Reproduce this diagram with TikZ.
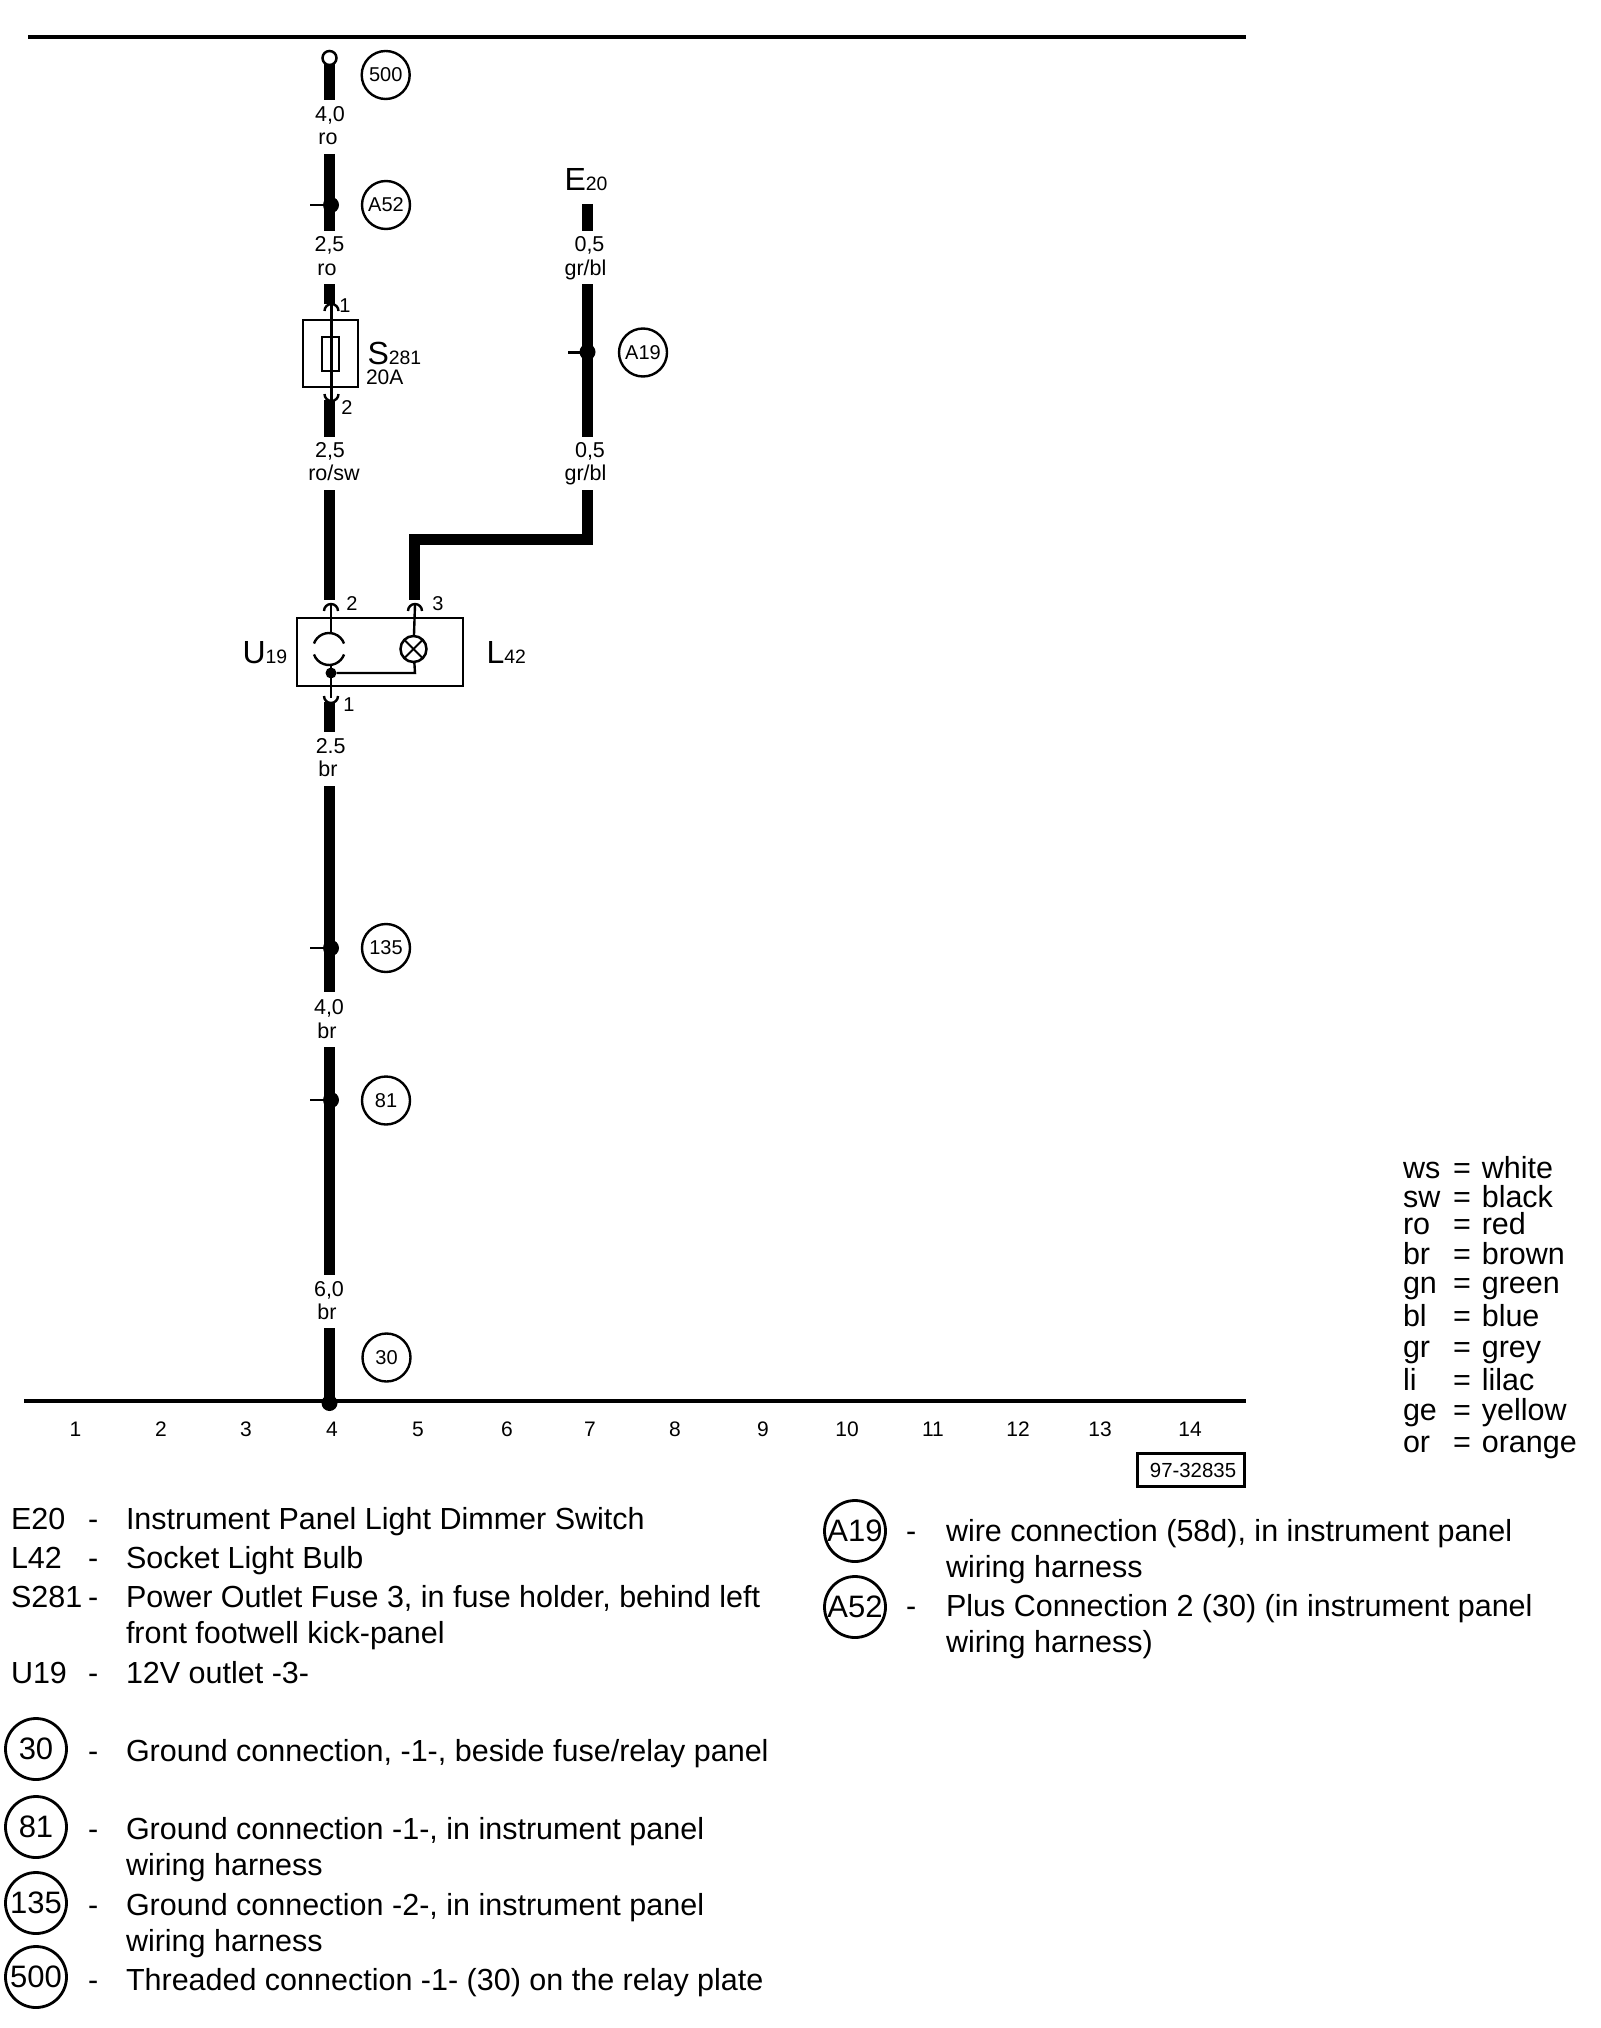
\documentclass[tikz,border=0pt]{standalone}
\usepackage{fontspec}
\setmainfont{Liberation Sans}
\newcommand{\bigtag}[2]{\fontsize{16}{18}\selectfont #1\fontsize{9.7}{12}\selectfont #2}
\tikzset{
	wire/.style={line width=5.25pt},
	rail/.style={line width=1.7pt},
	pinline/.style={line width=1.2pt},
	fork/.style={line width=1.2pt},
	plain/.style={inner sep=0pt,outer sep=0pt},
	wirelabel/.style={plain,anchor=base,font=\fontsize{10.75}{12}\selectfont},
	pinnum/.style={plain,anchor=base,font=\fontsize{10}{12}\selectfont},
	legendtext/.style={plain,anchor=base west,font=\fontsize{15.25}{18}\selectfont},
	tagcirc/.style={circle,draw,plain,line width=1.2pt,minimum size=24pt,font=\fontsize{10}{12}\selectfont},
	legendcirc/.style={circle,draw,plain,line width=1.4pt,minimum size=30.5pt,font=\fontsize{15.5}{18}\selectfont},
	splice/.style={circle,fill=black,plain,minimum size=8pt},
	housing/.style={rectangle,draw,plain,line width=1.15pt}
}
\begin{document}
\begin{tikzpicture}[x=.5pt,y=-.5pt]
	\useasboundingbox (0,0) rectangle (1600,2028);

	% rails
	\coordinate (topleft) at (28,37);
	\coordinate (topright) at (1246,37);
	\coordinate (botleft) at (24,1401);
	\coordinate (botright) at (1246,1401);
	\draw[rail] (topleft) -- (topright);
	\draw[rail] (botleft) -- (botright);

	% straight wire pieces
	\foreach \name/\xpos/\ytop/\ybot in {a/329.5/62/100,b/329.5/154/231,c/329.5/284/304,d/329.5/400/437,
		e/329.5/490/600,f/329.5/702/732,g/329.5/786/992,h/329.5/1047/1275,i/329.5/1328/1401,
		j/587.5/204/231,k/587.5/284/437}{
		\coordinate (\name top) at (\xpos,\ytop);
		\coordinate (\name bot) at (\xpos,\ybot);
		\draw[wire] (\name top) -- (\name bot);
	}

	% wire with the bend, E20 to L42
	\coordinate (bendtop) at (587.5,490);
	\coordinate (bendr) at (587.5,539.5);
	\coordinate (bendl) at (414.5,539.5);
	\coordinate (bendbot) at (414.5,600);
	\draw[wire] (bendtop) -- (bendr) -- (bendl) -- (bendbot);

	% wire sizes and colours
	\foreach \name/\xpos/\ypos/\txt in {sa/330/121.5/{4,0},ca/328/144.5/ro,sb/329.5/251.5/{2,5},cb/327/275.5/ro,
		sc/330/457.5/{2,5},cc/334/480.5/{ro/sw},sd/589.5/251.5/{0,5},cd/585.5/275.5/{gr/bl},se/590/457.5/{0,5},ce/585.5/480.5/{gr/bl},
		sf/330.7/753.5/2.5,cf/328/776.5/br,sg/329/1014.5/{4,0},cg/327/1038.5/br,sh/329/1296.5/{6,0},ch/327/1319.5/br}{
		\node[wirelabel] (\name) at (\xpos,\ypos) {\txt};
	}

	% 500, threaded connection
	\node[circle,draw,fill=white,plain,line width=1.25pt,minimum size=7pt] (stud) at (329.5,58) {};
	\node[tagcirc] (t500) at (385.7,75) {500};

	% splices
	\foreach \name/\xpos/\ypos/\tip/\lw in {A52/331/205/310/.7pt,A19/587.5/352/568/1.5pt,n135/331/948/310/1.2pt,n81/331/1100/310/.7pt}{
		\node[splice] (dot\name) at (\xpos,\ypos) {};
		\coordinate (tick\name) at (\tip,\ypos);
		\draw[line width=\lw] (tick\name) -- (dot\name);
	}
	\node[splice] (dot30) at (329.5,1403) {};
	\node[tagcirc] (tA52) at (386,205) {A52};
	\node[tagcirc] (tA19) at (643,352.5) {A19};
	\node[tagcirc] (t135) at (386,948) {135};
	\node[tagcirc] (t81) at (386,1100.5) {81};
	\node[tagcirc] (t30) at (386.5,1357.5) {30};

	% E20
	\node[plain,anchor=base west] (E20) at (564.5,190.5) {\bigtag{E}{20}};

	% S281
	\node[housing] (fusebox) at (330.5,353.5) [minimum width=27.5pt,minimum height=33.5pt] {};
	\node[housing,line width=1pt] (fuse) at (330.5,354) [minimum width=8.5pt,minimum height=17pt] {};
	\coordinate (fusein) at (331.5,305);
	\coordinate (fuseout) at (331.5,400);
	\draw[pinline] (fusein) -- (fuseout);
	\draw[fork] (fusein) ++(-7,6) arc[start angle=180,end angle=360,radius=7];
	\draw[fork] (fuseout) ++(-7,-6) arc[start angle=180,end angle=0,radius=7];
	\node[plain,anchor=base west] (S281) at (367.5,364) {\bigtag{S}{281}};
	\node[plain,anchor=base west,font=\fontsize{10.5}{12}\selectfont] (amps) at (366,384) {20A};
	\node[pinnum] (fp1) at (345,312) {1};
	\node[pinnum] (fp2) at (347,414) {2};

	% U19 and L42
	\node[housing] (unit) at (380,652) [minimum width=83pt,minimum height=34pt] {};
	\coordinate (socket) at (329,649);
	\coordinate (pinb) at (331,605);
	\coordinate (pinc) at (415,605);
	\coordinate (pina) at (331,698);
	\coordinate (soctop) at (331,633);
	\coordinate (corner) at (415,673);
	\node[splice,minimum size=5.5pt] (join) at (331,673) {};
	\node[circle,draw,plain,line width=1.25pt,minimum size=13pt] (lamp) at (413.5,649) {};
	\draw[line width=1pt] (lamp.45) -- (lamp.225);
	\draw[line width=1pt] (lamp.135) -- (lamp.315);
	\draw[pinline] (pinb) -- (soctop);
	\draw[pinline] (pinc) -- (lamp);
	\draw[pinline] (lamp) -- (corner) -- (join);
	\draw[pinline] (socket) ++(2,15) -- (pina);
	\draw[fork] (socket) ++(200:16) arc[start angle=200,end angle=340,radius=16];
	\draw[fork] (socket) ++(20:16) arc[start angle=20,end angle=160,radius=16];
	\draw[fork] (pinb) ++(-7,6) arc[start angle=180,end angle=360,radius=7];
	\draw[fork] (pinc) ++(-7,6) arc[start angle=180,end angle=360,radius=7];
	\draw[fork] (pina) ++(-7,-2) arc[start angle=180,end angle=0,radius=7];
	\node[plain,anchor=base west] (U19) at (242.5,663) {\bigtag{U}{19}};
	\node[plain,anchor=base west] (L42) at (486.5,663) {\bigtag{L}{42}};
	\node[pinnum] (up2) at (352,610) {2};
	\node[pinnum] (up3) at (438,610) {3};
	\node[pinnum] (up1) at (349,711) {1};

	% column numbers
	\foreach \num/\xpos in {1/75.5,2/161,3/246,4/332,5/418,6/507,7/590,8/675,9/763,10/847,11/933,12/1018,13/1100,14/1190}{
		\node[pinnum,font=\fontsize{10.5}{12}\selectfont] (col\num) at (\xpos,1436) {\num};
	}
	\node[housing,line width=1.4pt,minimum width=53.5pt,minimum height=16.5pt,font=\fontsize{10.2}{12}\selectfont] (drawno) at (1191,1470) {\hspace{2pt}97-32835};

	% colour codes
	\foreach \name/\ypos/\val in {ws/1178.5/white,sw/1207/black,ro/1234/red,br/1264/brown,gn/1293/green,bl/1326/blue,gr/1357/grey,li/1390/lilac,ge/1420/yellow,or/1452/orange}{
		\node[legendtext] (code\name) at (1403,\ypos) {\name};
		\node[legendtext] (val\name) at (1453,\ypos) {=\hspace{5.5pt}\val};
	}

	% legend, left column
	\foreach \name/\ypos/\key/\txt in {e/1529/E20/Instrument Panel Light Dimmer Switch,l/1568/L42/Socket Light Bulb,
		s/1607/S281/{Power Outlet Fuse 3, in fuse holder, behind left},u/1683/U19/12V outlet -3-}{
		\node[legendtext] (key\name) at (11,\ypos) {\key};
		\node[legendtext] (dash\name) at (88,\ypos) {-};
		\node[legendtext] (txt\name) at (126,\ypos) {\txt};
	}
	\node[legendtext] (txts2) at (126,1643) {front footwell kick-panel};

	\foreach \name/\ypos/\cy/\txt in {30/1761/1749/{Ground connection, -1-, beside fuse/relay panel},
		81/1839/1827/{Ground connection -1-, in instrument panel},
		135/1915/1903/{Ground connection -2-, in instrument panel},
		500/1990/1977/{Threaded connection -1- (30) on the relay plate}}{
		\node[legendcirc] (lc\name) at (36,\cy) {\name};
		\node[legendtext] (dash\name) at (88,\ypos) {-};
		\node[legendtext] (txt\name) at (126,\ypos) {\txt};
	}
	\node[legendtext] (txt81b) at (126,1875) {wiring harness};
	\node[legendtext] (txt135b) at (126,1951) {wiring harness};

	% legend, right column
	\foreach \name/\ypos/\cy/\txt in {A19/1541/1531/{wire connection (58d), in instrument panel},
		A52/1616/1607/{Plus Connection 2 (30) (in instrument panel}}{
		\node[legendcirc] (lc\name) at (855,\cy) {\name};
		\node[legendtext] (dash\name) at (906,\ypos) {-};
		\node[legendtext] (txt\name) at (946,\ypos) {\txt};
	}
	\node[legendtext] (txtA19b) at (946,1577) {wiring harness};
	\node[legendtext] (txtA52b) at (946,1652) {wiring harness)};
\end{tikzpicture}
\end{document}
